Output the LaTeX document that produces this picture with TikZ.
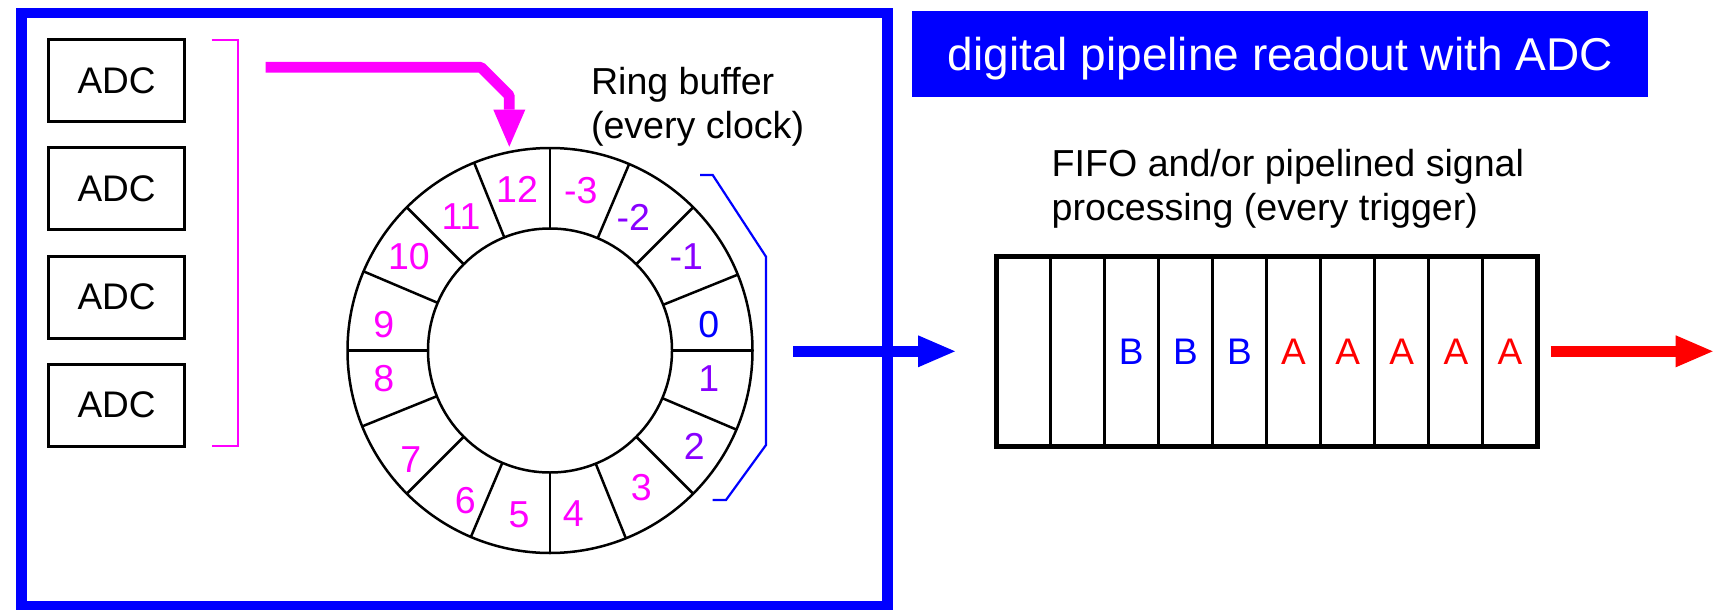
\documentclass[tikz,border=0pt]{standalone}
\usepackage{fontspec}
\setmainfont{Liberation Sans}
\usetikzlibrary{arrows.meta}
\definecolor{frameblue}{HTML}{0000FF}
\definecolor{mag}{HTML}{FF00FF}
\definecolor{viol}{HTML}{8800FF}
\definecolor{fred}{HTML}{FF0000}
\begin{document}
\begin{tikzpicture}[x=1pt,y=-1pt,
  txt/.style={font=\fontsize{37.6}{44}\selectfont, inner sep=0pt, outer sep=0pt},
  adcbox/.style={draw, line width=2.7pt, minimum width=136pt, minimum height=82pt, inner sep=0pt, outer sep=0pt, font=\fontsize{37}{44}\selectfont},
  ringcirc/.style={circle, draw, line width=2.5pt, inner sep=0pt, outer sep=0pt},
  rlab/.style={font=\fontsize{37.5}{44}\selectfont, inner sep=0pt, outer sep=0pt},
  fatarrow/.style={line width=10.7pt, -{Triangle[length=37pt,width=32pt,line width=0pt]}},
  thinbracket/.style={line width=2.2pt},
  cell/.style={line width=3pt},
  letter/.style={font=\fontsize{37}{44}\selectfont, inner sep=0pt, outer sep=0pt},
]
\useasboundingbox (0,0) rectangle (1726,610);
% outer frame
\draw[frameblue, line width=10.5pt] (21.7,12.8) rectangle (887.5,606.5);

% ADC boxes
\node[adcbox] (adc1) at (116.6,80.8) {ADC};
\node[adcbox] (adc2) at (116.6,188.8) {ADC};
\node[adcbox] (adc3) at (116.6,297.2) {ADC};
\node[adcbox] (adc4) at (116.6,405.2) {ADC};

% magenta bracket
\coordinate (mb1) at (211.7,40);
\coordinate (mb2) at (238.3,40);
\coordinate (mb3) at (238.3,446);
\coordinate (mb4) at (211.7,446);
\draw[mag, thinbracket] (mb1) -- (mb2) -- (mb3) -- (mb4);

% ring buffer
\node[ringcirc, minimum size=405pt] (ringout) at (550,350.5) {};
\node[ringcirc, minimum size=244pt] (ringin) at (550,350.5) {};
\foreach \a in {0,22.5,...,337.5}
  \draw[line width=2.5pt] (ringin.\a) -- (ringout.\a);

\node[rlab, mag]  (l12) at (517,189.7) {12};
\node[rlab, mag]  (lm3) at (580.7,190.5) {-3};
\node[rlab, viol] (lm2) at (633.3,217.3) {-2};
\node[rlab, viol] (lm1) at (686.3,256.7) {-1};
\node[rlab, frameblue] (l0) at (708.7,325) {0};
\node[rlab, viol] (l1) at (708.7,378.7) {1};
\node[rlab, viol] (l2) at (694.3,446.7) {2};
\node[rlab, mag]  (l3) at (641.3,487.3) {3};
\node[rlab, mag]  (l4) at (573.3,513.3) {4};
\node[rlab, mag]  (l5) at (519,514.3) {5};
\node[rlab, mag]  (l6) at (465.3,500.7) {6};
\node[rlab, mag]  (l7) at (410.7,459.7) {7};
\node[rlab, mag]  (l8) at (383.7,379) {8};
\node[rlab, mag]  (l9) at (383.7,325) {9};
\node[rlab, mag]  (l10) at (409,256.7) {10};
\node[rlab, mag]  (l11) at (461,216.7) {11};

% ring buffer caption
\node[txt, anchor=base west] (rb1) at (591,94) {Ring buffer};
\node[txt, anchor=base west] (rb2) at (591,138) {(every clock)};

% magenta arrow
\coordinate (ms) at (265.7,67.3);
\coordinate (mc1) at (481,67.3);
\coordinate (mc2) at (509.3,95.6);
\coordinate (mt) at (509.3,146.7);
\draw[mag, fatarrow, line join=round] (ms) -- (mc1) -- (mc2) -- (mt);

% blue bracket
\coordinate (bb1) at (700,175);
\coordinate (bb2) at (712.7,175);
\coordinate (bb3) at (766,256.7);
\coordinate (bb4) at (766,445);
\coordinate (bb5) at (726,500);
\coordinate (bb6) at (712.7,500);
\draw[frameblue, thinbracket] (bb1) -- (bb2) -- (bb3) -- (bb4) -- (bb5) -- (bb6);

% title
\node[fill=frameblue, text=white, anchor=base, minimum width=736pt, inner xsep=0pt, inner ysep=0pt,
      text height=60pt, text depth=26pt, font=\fontsize{46}{52}\selectfont] (title) at (1280.3,70.7)
      {digital pipeline readout with ADC};

% FIFO caption
\node[txt, anchor=base west] (ff1) at (1051.7,176) {FIFO and/or pipelined signal};
\node[txt, anchor=base west] (ff2) at (1051.7,220) {processing (every trigger)};

% FIFO
\node[draw, line width=5pt, minimum width=541pt, minimum height=189.3pt, inner sep=0pt, outer sep=0pt] (fifo) at (1266.5,351.35) {};
\foreach \i in {1,...,9}
  \draw[cell] ([xshift=54.1*\i pt]fifo.north west) -- ([xshift=54.1*\i pt]fifo.south west);
\foreach \i/\t/\c in {3/B/frameblue,4/B/frameblue,5/B/frameblue,6/A/fred,7/A/fred,8/A/fred,9/A/fred,10/A/fred}
  \node[letter, text=\c] (c\i) at (996+54.1*\i-27.05,351.7) {\t};

% blue arrow into FIFO
\coordinate (bs) at (793.3,351.3);
\coordinate (bt) at (955,351.3);
\draw[frameblue, fatarrow] (bs) -- (bt);

% red arrow out of FIFO
\coordinate (rs) at (1550.7,351.3);
\coordinate (rt) at (1712.7,351.3);
\draw[fred, fatarrow] (rs) -- (rt);
\end{tikzpicture}
\end{document}
